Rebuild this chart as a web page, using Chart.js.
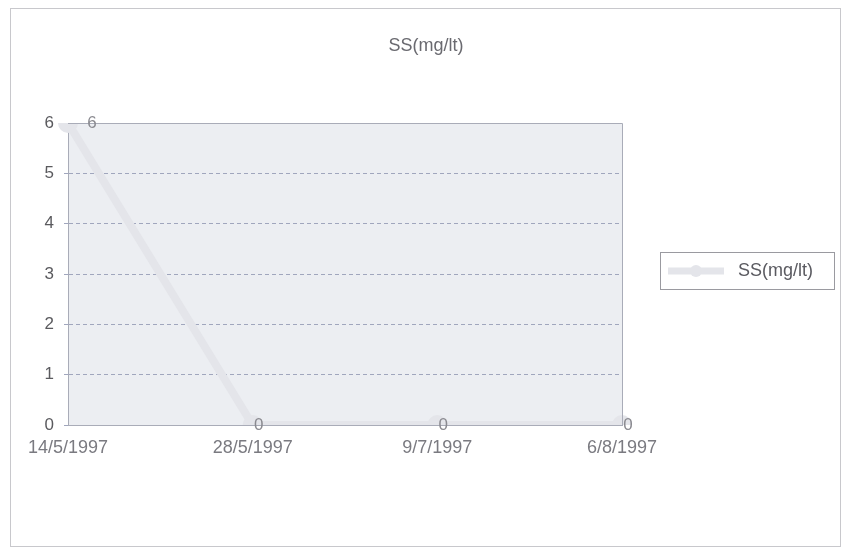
<!DOCTYPE html>
<html>
<head>
<meta charset="utf-8">
<script src="https://cdn.jsdelivr.net/npm/chart.js@4"></script>
<style>
  html, body { margin: 0; padding: 0; background: #ffffff; }
  #wrap { width: 848px; height: 548px; }
</style>
</head>
<body>
<div id="wrap"><canvas id="ssChart" width="848" height="548"></canvas></div>
<script>
// chart data
var dates = ['14/5/1997', '28/5/1997', '9/7/1997', '6/8/1997'];
var ssValues = [6, 0, 0, 0];
var yTicks = [0, 1, 2, 3, 4, 5, 6];
var seriesName = 'SS(mg/lt)';
var chartTitle = 'SS(mg/lt)';

var lineColor = '#e4e5ea';
var textColor = '#5a5a5e';
var fontFam = '"Liberation Sans", Arial, sans-serif';

// frame, plot background, title, value labels and legend box
var excelLook = {
  id: 'excelLook',
  beforeDraw: function (chart) {
    var c = chart.ctx, a = chart.chartArea;
    c.save();
    c.fillStyle = '#ffffff';
    c.fillRect(0, 0, chart.width, chart.height);
    c.strokeStyle = '#c8c8cc';
    c.lineWidth = 1;
    c.strokeRect(10.5, 8.5, 830, 538);
    c.fillStyle = '#eceef2';
    c.fillRect(a.left, a.top, a.right - a.left, a.bottom - a.top);
    c.restore();
  },
  afterDraw: function (chart) {
    var c = chart.ctx, a = chart.chartArea;
    c.save();
    // plot border
    c.strokeStyle = '#a9acb8';
    c.lineWidth = 1;
    c.beginPath();
    c.moveTo(a.left, a.top + 0.5);
    c.lineTo(a.right + 0.5, a.top + 0.5);
    c.lineTo(a.right + 0.5, a.bottom);
    c.stroke();
    // title
    c.fillStyle = '#6a6a70';
    c.font = '18px ' + fontFam;
    c.textAlign = 'center';
    c.textBaseline = 'middle';
    c.fillText(chartTitle, 426, 46);
    // value labels
    var meta = chart.getDatasetMeta(0);
    c.font = '17px ' + fontFam;
    c.fillStyle = '#8a8a90';
    meta.data.forEach(function (pt, i) {
      var dx = i === 0 ? 24 : 6;
      c.fillText(String(ssValues[i]), pt.x + dx, pt.y);
    });
    // legend box
    c.strokeStyle = '#9a9aa0';
    c.strokeRect(660.5, 252.5, 174, 37);
    c.strokeStyle = lineColor;
    c.lineWidth = 7;
    c.beginPath();
    c.moveTo(668, 271);
    c.lineTo(724, 271);
    c.stroke();
    c.fillStyle = lineColor;
    c.beginPath();
    c.arc(696, 271, 6, 0, Math.PI * 2);
    c.fill();
    c.fillStyle = '#5a5a60';
    c.font = '18px ' + fontFam;
    c.textAlign = 'left';
    c.fillText(seriesName, 738, 271);
    c.restore();
  }
};

var ctx = document.getElementById('ssChart').getContext('2d');
var ssChart = new Chart(ctx, {
  type: 'line',
  data: {
    labels: dates,
    datasets: [{
      label: seriesName,
      data: ssValues,
      borderColor: lineColor,
      backgroundColor: lineColor,
      borderWidth: 8,
      pointRadius: 6,
      pointBackgroundColor: lineColor,
      pointBorderColor: lineColor,
      tension: 0
    }]
  },
  options: {
    responsive: false,
    animation: false,
    layout: { padding: { left: 30, right: 226, top: 123, bottom: 83 } },
    plugins: {
      legend: { display: false },
      title: { display: false },
      tooltip: { enabled: false }
    },
    scales: {
      x: {
        offset: false,
        grid: { display: false, drawTicks: false },
        border: { display: true, color: '#a9acb8' },
        ticks: {
          color: '#7a7a80',
          font: { size: 18, family: fontFam },
          maxRotation: 0,
          padding: 12
        },
        afterFit: function (scale) { scale.height = 40; }
      },
      y: {
        min: 0,
        max: 6,
        afterBuildTicks: function (scale) {
          scale.ticks = yTicks.map(function (v) { return { value: v }; });
        },
        grid: {
          color: '#a0a6bd',
          drawTicks: true,
          tickLength: 4
        },
        border: { display: true, color: '#a9acb8', dash: [4, 3] },
        ticks: {
          color: textColor,
          font: { size: 17, family: fontFam },
          padding: 10
        },
        afterFit: function (scale) { scale.width = 38; }
      }
    }
  },
  plugins: [excelLook]
});
// dashed horizontal gridlines
ssChart.options.scales.y.grid.borderDash = [4, 3];
ssChart.options.scales.y.border.dash = [4, 3];
ssChart.update();
</script>
</body>
</html>
